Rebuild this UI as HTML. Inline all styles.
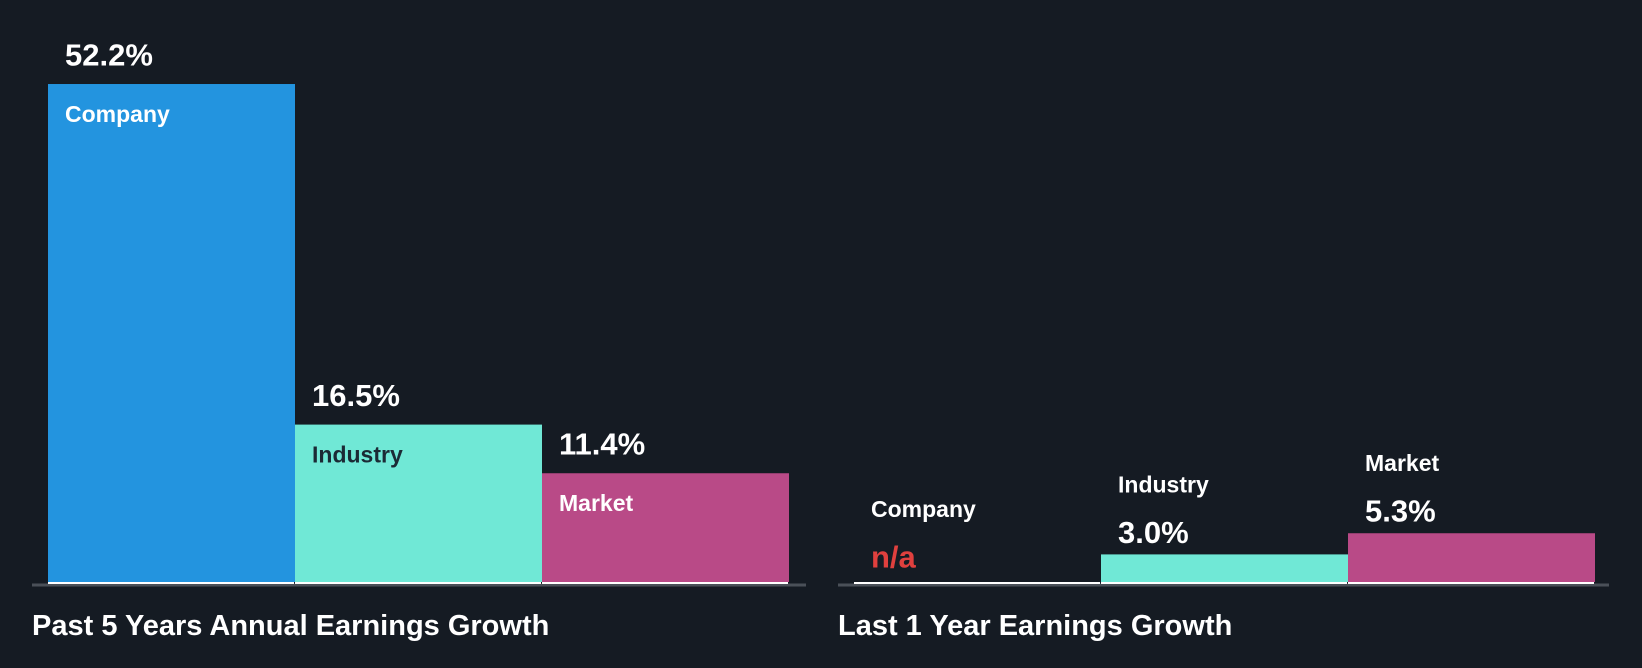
<!DOCTYPE html>
<html><head><meta charset="utf-8"><style>
html,body{margin:0;padding:0;background:#151b23;}
svg{display:block;font-family:"Liberation Sans",Arial,sans-serif;font-weight:bold;}
</style></head><body>
<svg id="c" width="1642" height="668" viewBox="0 0 1642 668">
<rect width="1642" height="668" fill="#151b23"/>
</svg>
<script>
const categories = ["Company","Industry","Market"];
const past5Values = [52.2, 16.5, 11.4];
const last1Values = [null, 3.0, 5.3];
const colors = ["#2394df","#70e8d6","#b94a87"];
const titles = ["Past 5 Years Annual Earnings Growth","Last 1 Year Earnings Growth"];
const svg = document.getElementById('c');
const NS = "http://www.w3.org/2000/svg";
const baseY = 582;
function mk(tag, attrs){const e=document.createElementNS(NS,tag);for(const k in attrs)e.setAttribute(k,attrs[k]);svg.appendChild(e);return e;}
function fmt(v){return v===null?"n/a":v.toFixed(1)+"%";}
function panel(values, x0, axisX0, axisX1, scale, title, inside, idx){
  const bw = 247;
  const ys = v => baseY - (v===null?0:v)*scale;
  let ax = mk('line',{x1:axisX0,x2:axisX1,y1:585,y2:585,stroke:'#4a5058','stroke-width':3});
  
  
  values.forEach((v,i)=>{
    const x = x0 + i*bw;
    const top = ys(v);
    if(v!==null){
      const r = mk('rect',{x:x,y:top,width:bw,height:baseY-top,fill:colors[i]});
      
      
    }
    const b = mk('rect',{x:x,y:baseY,width:bw-1,height:2,fill:'#ffffff'});
    
    
    let nameY, valY;
    if(inside){ valY = top - 29; nameY = top + 30; }
    else { valY = (v===null? baseY-25 : top - 22); nameY = valY - 48; }
    const vt = mk('text',{x:x+17,y:valY,fill:v===null?'#e0403e':'#ffffff','font-size':31,'dominant-baseline':'central'});
    vt.textContent = fmt(v);
    
    
    const nt = mk('text',{x:x+17,y:nameY,fill:(inside&&i===1)?'#1b2a35':'#ffffff','font-size':23,'dominant-baseline':'central'});
    nt.textContent = categories[i];
    
    
  });
  const t = mk('text',{x:axisX0,y:626,fill:'#ffffff','font-size':29,'dominant-baseline':'central'});
  t.textContent = title;
  
  
}
panel(past5Values, 48, 32, 806, 9.54, titles[0], true, 'past5');
panel(last1Values, 854, 838, 1609, 9.2, titles[1], false, 'last1');
</script>
</body></html>
